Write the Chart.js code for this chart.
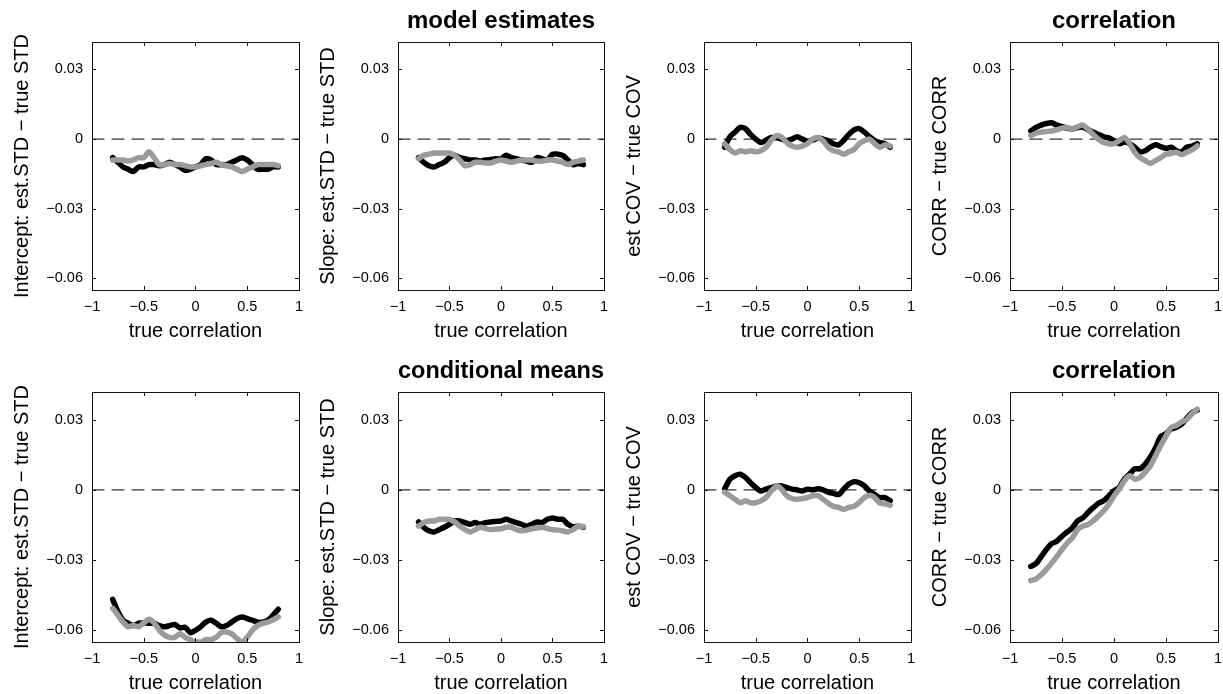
<!DOCTYPE html>
<html>
<head>
<meta charset="utf-8">
<script src="https://cdn.jsdelivr.net/npm/chart.js@4/dist/chart.umd.min.js"></script>
<style>
  html, body { margin: 0; padding: 0; background: #fff; overflow: hidden; }
  #fig { position: relative; width: 1223px; height: 694px; }
  #fig canvas { position: absolute; }
</style>
</head>
<body>
<div id="fig"></div>
<script>
// x grid: true correlation
const trueCorr = [-0.8, -0.75, -0.7, -0.65, -0.6, -0.55, -0.5, -0.45, -0.4, -0.35, -0.3, -0.25, -0.2, -0.15, -0.1, -0.05, 0,
                  0.05, 0.1, 0.15, 0.2, 0.25, 0.3, 0.35, 0.4, 0.45, 0.5, 0.55, 0.6, 0.65, 0.7, 0.75, 0.8];
const xTicks = [-1, -0.5, 0, 0.5, 1];
const yTicks = [-0.06, -0.03, 0, 0.03];

// top row: model estimates
const modelInterceptBlack = [-0.008, -0.010, -0.012, -0.013, -0.014, -0.012, -0.012, -0.011, -0.011, -0.0115, -0.011, -0.010, -0.011, -0.012, -0.0135, -0.013, -0.012,
                             -0.011, -0.0085, -0.009, -0.011, -0.011, -0.011, -0.010, -0.009, -0.008, -0.009, -0.011, -0.013, -0.013, -0.013, -0.012, -0.012];
const modelInterceptGray  = [-0.009, -0.009, -0.009, -0.0095, -0.009, -0.008, -0.008, -0.0055, -0.008, -0.011, -0.011, -0.0105, -0.011, -0.011, -0.0115, -0.012, -0.012,
                             -0.0115, -0.011, -0.0105, -0.010, -0.011, -0.0115, -0.012, -0.013, -0.014, -0.013, -0.012, -0.011, -0.011, -0.011, -0.011, -0.0115];
const modelSlopeBlack = [-0.008, -0.010, -0.0115, -0.012, -0.011, -0.010, -0.008, -0.007, -0.008, -0.0085, -0.009, -0.009, -0.0095, -0.009, -0.0088, -0.0085, -0.0085,
                         -0.007, -0.008, -0.0085, -0.009, -0.0095, -0.010, -0.008, -0.0085, -0.009, -0.0065, -0.0065, -0.007, -0.009, -0.011, -0.0105, -0.011];
const modelSlopeGray  = [-0.0085, -0.007, -0.0065, -0.006, -0.006, -0.006, -0.006, -0.007, -0.009, -0.0115, -0.011, -0.010, -0.010, -0.0103, -0.0103, -0.0095, -0.009,
                         -0.0095, -0.010, -0.0095, -0.009, -0.009, -0.009, -0.0095, -0.0095, -0.009, -0.009, -0.0095, -0.010, -0.011, -0.010, -0.0095, -0.009];
const modelCovBlack = [-0.0035, 0.001, 0.003, 0.005, 0.0045, 0.002, 0, -0.0015, -0.0005, 0.0007, 0.0005, 0, -0.0007, 0, 0.001, 0, -0.001,
                       -0.0005, 0.0005, 0, -0.0007, -0.002, -0.0025, -0.0005, 0.002, 0.004, 0.0045, 0.003, 0.001, -0.0007, -0.0015, -0.002, -0.0035];
const modelCovGray  = [-0.002, -0.0045, -0.006, -0.005, -0.0055, -0.005, -0.0055, -0.005, -0.0035, -0.0005, 0.0015, 0.0008, -0.0015, -0.003, -0.0035, -0.003, -0.002,
                       0, 0.0007, -0.0007, -0.0035, -0.005, -0.0055, -0.0065, -0.0055, -0.0045, -0.002, -0.0007, 0, -0.002, -0.0035, -0.0025, -0.003];
const modelCorrBlack = [0.0035, 0.005, 0.006, 0.0067, 0.007, 0.006, 0.0053, 0.0047, 0.0043, 0.005, 0.0052, 0.004, 0.003, 0.002, 0.001, 0.0005, -0.0007,
                        -0.002, -0.0013, -0.002, -0.0035, -0.0055, -0.005, -0.0035, -0.0025, -0.0033, -0.004, -0.0035, -0.005, -0.0055, -0.0035, -0.003, -0.002];
const modelCorrGray  = [0.0015, 0.0025, 0.003, 0.0032, 0.0035, 0.004, 0.0047, 0.005, 0.0043, 0.0053, 0.006, 0.0043, 0.002, 0, -0.0015, -0.002, -0.002,
                        -0.0007, 0.0007, -0.002, -0.0057, -0.008, -0.0093, -0.0105, -0.0093, -0.008, -0.0065, -0.0062, -0.0057, -0.0067, -0.0057, -0.0047, -0.003];

// bottom row: conditional means
const condInterceptBlack = [-0.0468, -0.052, -0.0557, -0.057, -0.058, -0.057, -0.0568, -0.057, -0.057, -0.058, -0.0585, -0.058, -0.0575, -0.059, -0.0587, -0.061, -0.060,
                            -0.0585, -0.0565, -0.0557, -0.057, -0.0585, -0.058, -0.0565, -0.055, -0.0543, -0.055, -0.0557, -0.0565, -0.0565, -0.0557, -0.0535, -0.051];
const condInterceptGray  = [-0.0506, -0.0535, -0.0565, -0.0585, -0.058, -0.0585, -0.0568, -0.0553, -0.0568, -0.060, -0.062, -0.063, -0.063, -0.0615, -0.063, -0.064, -0.065,
                            -0.065, -0.064, -0.064, -0.063, -0.061, -0.0607, -0.0615, -0.0635, -0.065, -0.063, -0.060, -0.058, -0.057, -0.0565, -0.0555, -0.0543];
const condSlopeBlack = [-0.0137, -0.016, -0.0175, -0.018, -0.017, -0.016, -0.0147, -0.0133, -0.0133, -0.014, -0.0147, -0.014, -0.0147, -0.014, -0.0137, -0.0135, -0.0133,
                        -0.0126, -0.0133, -0.014, -0.0147, -0.0155, -0.0147, -0.0137, -0.014, -0.0126, -0.012, -0.0126, -0.0126, -0.0147, -0.0157, -0.0155, -0.016];
const condSlopeGray  = [-0.0155, -0.014, -0.0133, -0.0133, -0.0126, -0.0126, -0.0126, -0.0137, -0.0155, -0.017, -0.018, -0.017, -0.016, -0.0165, -0.017, -0.0168, -0.0166,
                        -0.016, -0.016, -0.017, -0.0175, -0.0172, -0.0166, -0.0163, -0.016, -0.0165, -0.017, -0.0172, -0.0175, -0.018, -0.017, -0.0155, -0.0158];
const condCovBlack = [0.0005, 0.0045, 0.006, 0.0067, 0.0053, 0.003, 0.001, -0.0005, 0.0003, 0.001, 0.0017, 0.0017, 0.001, 0.0003, 0, -0.0005, 0.0003,
                      0, 0.0005, 0, -0.001, -0.0015, -0.002, 0.0003, 0.0025, 0.0035, 0.003, 0.0017, -0.0005, -0.002, -0.0033, -0.0033, -0.0047];
const condCovGray  = [-0.001, -0.0025, -0.004, -0.0055, -0.0047, -0.0055, -0.0055, -0.0047, -0.0033, -0.0005, 0.0017, 0.0003, -0.0025, -0.0037, -0.004, -0.0037, -0.0033,
                      -0.0025, -0.0025, -0.004, -0.0057, -0.007, -0.0075, -0.0083, -0.0075, -0.007, -0.0055, -0.0033, -0.0023, -0.0033, -0.0057, -0.006, -0.0066];
const condCorrBlack = [-0.0327, -0.0315, -0.0285, -0.0255, -0.023, -0.022, -0.0198, -0.018, -0.0162, -0.0133, -0.012, -0.0097, -0.0076, -0.0057, -0.0047, -0.0026, -0.0004,
                       0.001, 0.0046, 0.0067, 0.009, 0.009, 0.011, 0.014, 0.018, 0.0228, 0.024, 0.026, 0.0267, 0.028, 0.0306, 0.033, 0.034];
const condCorrGray  = [-0.0388, -0.038, -0.0363, -0.034, -0.0313, -0.0285, -0.0255, -0.0227, -0.0205, -0.017, -0.0155, -0.0148, -0.0133, -0.0112, -0.009, -0.0062, -0.0026,
                       0.0003, 0.0039, 0.006, 0.0046, 0.0053, 0.0075, 0.0103, 0.0146, 0.019, 0.023, 0.0267, 0.0275, 0.029, 0.030, 0.0325, 0.0345];

const panels = [
  { row: 0, col: 0, ylabel: 'Intercept: est.STD \u2212 true STD', black: modelInterceptBlack, gray: modelInterceptGray },
  { row: 0, col: 1, ylabel: 'Slope: est.STD \u2212 true STD', black: modelSlopeBlack, gray: modelSlopeGray, title: 'model estimates' },
  { row: 0, col: 2, ylabel: 'est COV \u2212 true COV', black: modelCovBlack, gray: modelCovGray },
  { row: 0, col: 3, ylabel: 'CORR \u2212 true CORR', black: modelCorrBlack, gray: modelCorrGray, title: 'correlation' },
  { row: 1, col: 0, ylabel: 'Intercept: est.STD \u2212 true STD', black: condInterceptBlack, gray: condInterceptGray },
  { row: 1, col: 1, ylabel: 'Slope: est.STD \u2212 true STD', black: condSlopeBlack, gray: condSlopeGray, title: 'conditional means' },
  { row: 1, col: 2, ylabel: 'est COV \u2212 true COV', black: condCovBlack, gray: condCovGray },
  { row: 1, col: 3, ylabel: 'CORR \u2212 true CORR', black: condCorrBlack, gray: condCorrGray, title: 'correlation' }
];

// plot-box positions on the page
const colLeft = [92, 398, 704, 1010];
const colRight = [303, 608, 915, 1222];
const rowTop = [42, 392];
const rowBottom = [290, 642];
const canvasTop = [0, 350];
const Y_AXIS_W = 82, X_AXIS_H = 53, PAD_R = 8;

Chart.defaults.font.family = "'Liberation Sans', Arial, Helvetica, sans-serif";
Chart.defaults.color = '#000';

const fmt = v => String(v).replace('-', '\u2212');

// box around the axes with inward ticks on all four sides
const axesBox = {
  id: 'axesBox',
  afterDatasetsDraw(chart) {
    const { ctx, chartArea: a, scales: { x, y } } = chart;
    const tl = 4;
    ctx.save();
    ctx.strokeStyle = '#111';
    ctx.lineWidth = 1;
    ctx.beginPath();
    xTicks.forEach(v => {
      const px = Math.round(x.getPixelForValue(v)) + 0.5;
      ctx.moveTo(px, a.bottom); ctx.lineTo(px, a.bottom - tl);
      ctx.moveTo(px, a.top); ctx.lineTo(px, a.top + tl);
    });
    yTicks.forEach(v => {
      const py = Math.round(y.getPixelForValue(v)) + 0.5;
      ctx.moveTo(a.left, py); ctx.lineTo(a.left + tl, py);
      ctx.moveTo(a.right, py); ctx.lineTo(a.right - tl, py);
    });
    ctx.stroke();
    ctx.strokeRect(Math.round(a.left) + 0.5, Math.round(a.top) + 0.5,
                   Math.round(a.right - a.left), Math.round(a.bottom - a.top));
    ctx.restore();
  }
};

const fig = document.getElementById('fig');

panels.forEach(p => {
  const L = colLeft[p.col], R = colRight[p.col], T = rowTop[p.row], B = rowBottom[p.row];
  const w = Y_AXIS_W + (R - L) + PAD_R;
  const h = (T - canvasTop[p.row]) + (B - T) + X_AXIS_H;
  const canvas = document.createElement('canvas');
  canvas.width = w; canvas.height = h;
  canvas.style.left = (L - Y_AXIS_W) + 'px';
  canvas.style.top = canvasTop[p.row] + 'px';
  canvas.style.width = w + 'px';
  canvas.style.height = h + 'px';
  fig.appendChild(canvas);

  const toPts = arr => trueCorr.map((x, i) => ({ x: x, y: arr[i] }));

  new Chart(canvas, {
    type: 'line',
    data: {
      datasets: [
        { data: toPts(p.gray), borderColor: '#9b9b9b', borderWidth: 5.5, order: 1 },
        { data: toPts(p.black), borderColor: '#000', borderWidth: 5.5, order: 2 },
        { data: [{ x: -1, y: 0 }, { x: 1, y: 0 }], borderColor: '#333', borderWidth: 1.3,
          borderDash: [12, 8], tension: 0, order: 3 }
      ]
    },
    options: {
      responsive: false,
      animation: false,
      events: [],
      layout: { padding: { top: p.title ? 7 : (T - canvasTop[p.row]), right: PAD_R, bottom: 0, left: 0 } },
      elements: {
        point: { radius: 0 },
        line: { tension: 0.25, borderCapStyle: 'round', borderJoinStyle: 'round', fill: false }
      },
      datasets: { line: { clip: 0 } },
      plugins: {
        legend: { display: false },
        tooltip: { enabled: false },
        title: {
          display: !!p.title,
          text: p.title || '',
          fullSize: false,
          font: { size: 24, weight: 'bold' },
          padding: { top: 0, bottom: 6.2 },
          color: '#000'
        }
      },
      scales: {
        x: {
          type: 'linear',
          min: -1, max: 1,
          grid: { display: false, drawTicks: false },
          border: { display: false },
          afterBuildTicks: s => { s.ticks = xTicks.map(v => ({ value: v })); },
          afterFit: s => { s.height = X_AXIS_H; },
          ticks: { padding: 8, font: { size: 14.5 }, color: '#000', maxRotation: 0, callback: fmt },
          title: { display: true, text: 'true correlation', font: { size: 20 }, padding: { top: 0, bottom: 0 }, color: '#000' }
        },
        y: {
          type: 'linear',
          min: -0.065, max: 0.0418,
          grid: { display: false, drawTicks: false },
          border: { display: false },
          afterBuildTicks: s => { s.ticks = yTicks.map(v => ({ value: v })); },
          afterFit: s => { s.width = Y_AXIS_W; },
          ticks: { padding: 9, font: { size: 14.5 }, color: '#000', callback: fmt },
          title: { display: true, text: p.ylabel, font: { size: 20 }, padding: { top: 0, bottom: 0 }, color: '#000' }
        }
      }
    },
    plugins: [axesBox]
  });
});
</script>
</body>
</html>
